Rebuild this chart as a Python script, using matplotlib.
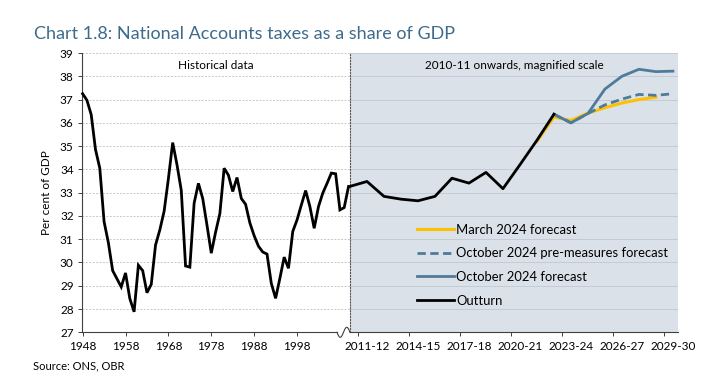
import matplotlib.pyplot as plt
import numpy as np

plt.rcParams['font.family'] = ['Lato', 'DejaVu Sans']

# Historical data, calendar years
hist_years = list(range(1948, 2011))
hist_tax = [37.25, 36.97, 36.35, 34.85, 34.05, 31.75, 30.85, 29.65, 29.3, 28.95,
            29.55, 28.45, 27.88, 29.88, 29.65, 28.7, 29.06, 30.75, 31.4, 32.2,
            33.6, 35.15, 34.2, 33.1, 29.85, 29.8, 32.55, 33.4, 32.75, 31.6,
            30.4, 31.3, 32.1, 34.05, 33.75, 33.05, 33.65, 32.75, 32.5, 31.7,
            31.15, 30.7, 30.45, 30.36, 29.1, 28.46, 29.32, 30.23, 29.75, 31.33,
            31.83, 32.47, 33.09, 32.4, 31.47, 32.4, 32.98, 33.4, 33.84, 33.81,
            32.26, 32.36, 33.26]
hist_ticks = [1948, 1958, 1968, 1978, 1988, 1998]

# 2010-11 onwards, fiscal years
fiscal_years = ['2010-11', '2011-12', '2012-13', '2013-14', '2014-15', '2015-16',
                '2016-17', '2017-18', '2018-19', '2019-20', '2020-21', '2021-22',
                '2022-23', '2023-24', '2024-25', '2025-26', '2026-27', '2027-28',
                '2028-29', '2029-30']
fy_ticks = ['2011-12', '2014-15', '2017-18', '2020-21', '2023-24', '2026-27', '2029-30']

outturn = [33.27, 33.48, 32.84, 32.72, 32.65, 32.84, 33.62, 33.41, 33.87, 33.17,
           34.2, 35.25, 36.37]
march_2024_start = '2021-22'
march_2024 = [35.2, 36.25, 36.1, 36.42, 36.65, 36.85, 37.0, 37.1]
oct_start = '2022-23'
oct_pre_measures = [36.37, 36.0, 36.4, 36.77, 37.02, 37.22, 37.18, 37.25]
oct_2024 = [36.37, 36.0, 36.4, 37.45, 38.0, 38.3, 38.2, 38.22]

YELLOW = '#FFC000'
BLUE = '#4F7B9B'
SHADE = '#DAE1E9'

W, H = 723, 388
fig = plt.figure(figsize=(W / 100, H / 100), dpi=100)
y0, y1 = 332.3, 53
bottom = (H - y0) / H
height = (y0 - y1) / H
ax1 = fig.add_axes([82 / W, bottom, (350 - 82) / W, height])
ax2 = fig.add_axes([350 / W, bottom, (678 - 350) / W, height], sharey=ax1)

# left panel
ax1.plot(hist_years, hist_tax, color='black', lw=2.0, solid_joinstyle='miter',
         clip_on=False, zorder=5)
ax1.set_xlim(1947.85, 2010.35)
ax1.set_ylim(27, 39)
ax1.set_yticks(range(27, 40))
ax1.set_xticks(hist_ticks)
ax1.grid(axis='y', color='#C8C8C8', lw=0.7, ls=(0, (2, 1.5)))
ax1.set_axisbelow(True)
for s in ['top', 'right']:
    ax1.spines[s].set_visible(False)
for s in ['left', 'bottom']:
    ax1.spines[s].set_color('#404040')
    ax1.spines[s].set_linewidth(0.8)
xl = ax1.get_xlim()
ax1.spines['bottom'].set_bounds(xl[0], xl[0] + (337 - 82) / (350 - 82) * (xl[1] - xl[0]))
ax1.tick_params(axis='both', direction='out', length=3, width=0.7, color='#404040',
                labelsize=8.5, pad=3)
ax1.set_ylabel('Per cent of GDP', fontsize=8.5, labelpad=6)
ax1.text(0.5, 0.955, 'Historical data', transform=ax1.transAxes, ha='center',
         va='center', fontsize=8.5)

# right panel
x_all = np.arange(len(fiscal_years))
i_m = fiscal_years.index(march_2024_start)
i_o = fiscal_years.index(oct_start)
ax2.set_facecolor(SHADE)
ax2.plot(x_all[i_m:i_m + len(march_2024)], march_2024, color=YELLOW, lw=2.2,
         label='March 2024 forecast', zorder=2)
ax2.plot(x_all[i_o:i_o + len(oct_pre_measures)], oct_pre_measures, color=BLUE, lw=2.0,
         ls=(0, (3, 1.6)), label='October 2024 pre-measures forecast', zorder=3)
ax2.plot(x_all[i_o:i_o + len(oct_2024)], oct_2024, color=BLUE, lw=2.0,
         label='October 2024 forecast', zorder=4)
ax2.plot(x_all[:len(outturn)], outturn, color='black', lw=2.0, label='Outturn',
         clip_on=False, zorder=5)
ax2.set_xlim(0, 19.3)
ax2.grid(axis='y', color='#C3CCD6', lw=0.7)
ax2.set_axisbelow(True)
for s in ['top', 'right']:
    ax2.spines[s].set_visible(False)
ax2.spines['left'].set_linestyle(':')
ax2.spines['left'].set_linewidth(0.8)
ax2.spines['left'].set_color('#555555')
ax2.spines['bottom'].set_color('#404040')
ax2.spines['bottom'].set_linewidth(0.8)
tick_pos = [fiscal_years.index(t) for t in fy_ticks]
ax2.set_xticks(tick_pos)
ax2.set_xticklabels(fy_ticks)
ax2.set_xticks([p - 0.5 for p in tick_pos], minor=True)
ax2.tick_params(axis='x', which='major', length=0, labelsize=8.5, pad=6)
ax2.tick_params(axis='x', which='minor', direction='out', length=3, width=0.7,
                color='#404040')
ax2.tick_params(axis='y', left=False, labelleft=False)
ax2.text(0.5, 0.955, '2010-11 onwards, magnified scale', transform=ax2.transAxes,
         ha='center', va='center', fontsize=8.5)

leg = ax2.legend(loc='upper left', bbox_to_anchor=(410 / W, 1 - 217 / H),
                 bbox_transform=fig.transFigure, frameon=False, fontsize=9.4,
                 handlelength=2.85, handletextpad=0.2, labelspacing=0.9,
                 borderpad=0)

# axis break squiggle
t = np.linspace(0, 1, 60)
bx = 337 + 13 * t
by = 332.3 + 5 * np.sin(2 * np.pi * t)
fig.add_artist(plt.Line2D(bx / W, 1 - by / H, color='#404040', lw=0.8))

fig.text(34 / W, 1 - 34 / H, 'Chart 1.8: National Accounts taxes as a share of GDP',
         fontsize=13, color='#3D6B8C', va='center', ha='left')
fig.text(33 / W, 1 - 366 / H, 'Source: ONS, OBR', fontsize=8, va='center', ha='left')

fig.savefig('out.png', dpi=100)
